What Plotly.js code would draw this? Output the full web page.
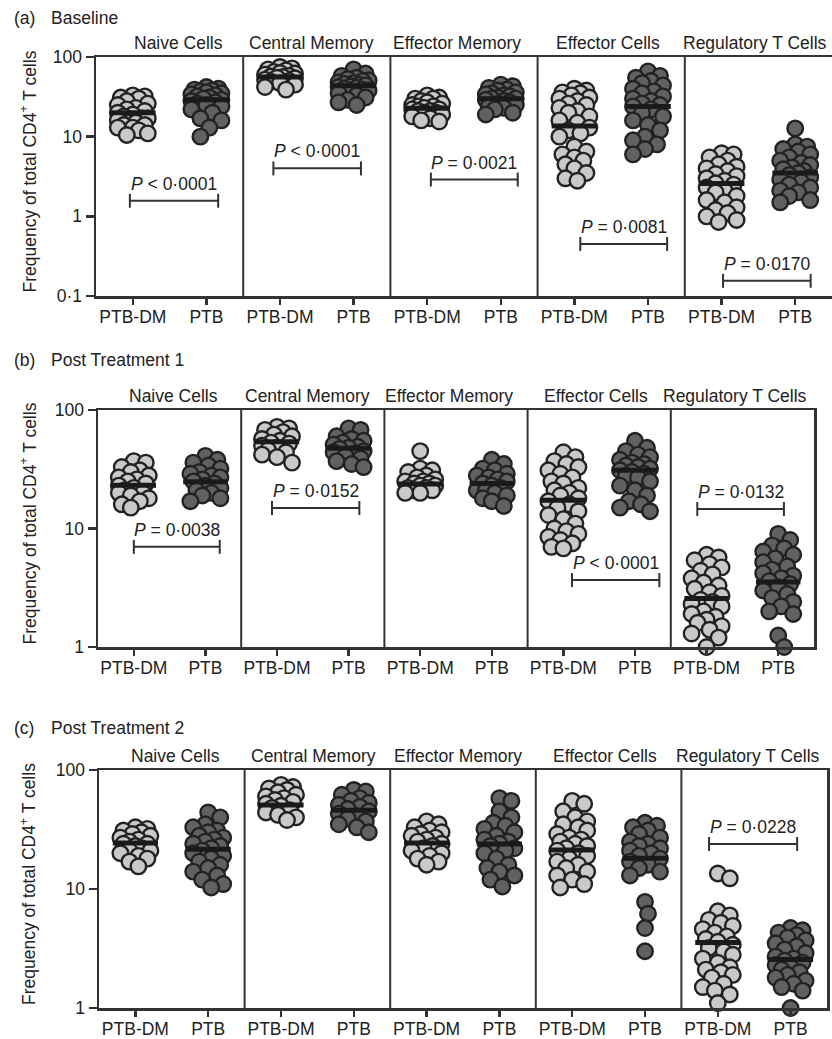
<!DOCTYPE html>
<html><head><meta charset="utf-8">
<script src="https://cdn.plot.ly/plotly-3.0.1.min.js"></script>
<style>html,body{margin:0;padding:0;background:#fff}#chart{width:832px;height:1039px}</style>
</head><body><div id="chart"></div>
<script>
// ---------- categories / labels ----------
const groups = ['Naive Cells', 'Central Memory', 'Effector Memory', 'Effector Cells', 'Regulatory T Cells'];
const cohorts = ['PTB-DM', 'PTB'];
const panelLetters = ['(a)', '(b)', '(c)'];
const panelTitles = ['Baseline', 'Post Treatment 1', 'Post Treatment 2'];

// ---------- (a) Baseline ----------
const A_naive_DM = [33, 32, 31, 30, 28, 26, 25, 23, 22, 21, 20, 19, 18, 17, 17, 16, 15, 15, 14, 14, 13, 13, 12, 11, 10.5];
const A_naive_PTB = [42, 40, 39, 38, 37, 36, 35, 34, 33, 32, 31, 30, 29, 28, 27, 26, 25, 24, 22, 20, 17, 16, 13, 10];
const A_cm_DM = [75, 72, 70, 68, 65, 63, 62, 60, 58, 57, 56, 55, 54, 52, 50, 49, 47, 45, 42, 39];
const A_cm_PTB = [70, 62, 58, 55, 53, 51, 50, 48, 47, 46, 45, 44, 43, 42, 41, 40, 39, 38, 37, 35, 33, 31, 29, 27, 25];
const A_em_DM = [33, 31, 30, 30, 28, 27, 26, 25, 24, 24, 23, 22, 22, 21, 21, 20, 20, 19, 18, 17, 16, 15.5];
const A_em_PTB = [45, 43, 41, 39, 38, 36, 35, 34, 33, 32, 31, 30, 30, 29, 28, 27, 26, 25, 24, 23, 22, 20, 19];
const A_eff_DM = [40, 38, 36, 35, 33, 31, 30, 28, 26, 25, 23, 21, 20, 18, 16, 15, 13, 12, 11, 10, 7.5, 6.5, 6, 5.5, 5, 4.5, 4, 3.5, 3, 2.8];
const A_eff_PTB = [66, 58, 55, 50, 47, 44, 40, 37, 35, 32, 30, 28, 26, 25, 24, 22, 20, 18, 16, 14, 12, 10, 9, 8, 7, 6];
const A_treg_DM = [6.2, 6, 5.5, 5, 4.5, 4.2, 4, 3.7, 3.4, 3.2, 3, 2.8, 2.6, 2.5, 2.3, 2.1, 2, 1.8, 1.6, 1.5, 1.3, 1.2, 1.1, 1.0, 0.9, 0.85];
const A_treg_PTB = [12.7, 8, 7.5, 7, 6.5, 6, 5.5, 5, 4.7, 4.4, 4.1, 3.9, 3.7, 3.5, 3.3, 3.1, 2.9, 2.7, 2.5, 2.3, 2.1, 2, 1.8, 1.6, 1.5];
const A_mean_DM = [20, 56, 22.8, 13.6, 2.58];
const A_mean_PTB = [29, 43.5, 30, 23.9, 3.5];

// ---------- (b) Post Treatment 1 ----------
const B_naive_DM = [37, 36, 33, 31, 30, 28, 27, 26, 25, 24, 23, 22, 21, 20, 20, 19, 18, 17, 16, 15];
const B_naive_PTB = [41, 38, 36, 34, 32, 30, 29, 28, 27, 26, 25, 24, 23, 22, 21, 20, 19, 18, 17];
const B_cm_DM = [72, 70, 68, 65, 62, 60, 57, 55, 53, 52, 50, 48, 46, 44, 42, 40, 36];
const B_cm_PTB = [70, 68, 60, 57, 55, 53, 51, 49, 48, 47, 45, 44, 43, 41, 39, 37, 35, 33];
const B_em_DM = [45, 32, 31, 30, 28, 27, 26, 25, 25, 24, 24, 23, 23, 22, 22, 21, 21, 20, 20];
const B_em_PTB = [38, 35, 32, 31, 29, 28, 27, 26, 25, 24, 23, 22, 21, 21, 20, 19, 18, 17, 15.5];
const B_eff_DM = [44, 40, 37, 35, 33, 31, 29, 27, 25, 24, 22, 21, 20, 19, 18, 17, 16, 15, 14, 13, 12, 11, 10, 9.5, 9, 8.5, 8, 7.5, 7, 6.8];
const B_eff_PTB = [55, 48, 45, 42, 40, 38, 36, 35, 34, 33, 32, 31, 30, 29, 28, 27, 25, 23, 21, 19, 17, 16, 15, 14];
const B_treg_DM = [6, 5.7, 5.4, 5, 4.7, 4.4, 4.1, 3.8, 3.5, 3.3, 3.1, 2.9, 2.7, 2.5, 2.4, 2.3, 2.2, 2.0, 1.9, 1.8, 1.7, 1.6, 1.5, 1.4, 1.3, 1.2, 1.0];
const B_treg_PTB = [9, 8, 7.2, 6.8, 6.4, 6, 5.6, 5.2, 4.8, 4.5, 4.2, 4, 3.8, 3.6, 3.4, 3.2, 3, 2.8, 2.6, 2.4, 2.2, 2, 1.9, 1.25, 1.0];
const B_mean_DM = [23.2, 54, 23.7, 17.3, 2.56];
const B_mean_PTB = [24.8, 47.5, 24, 31, 3.54];

// ---------- (c) Post Treatment 2 ----------
const C_naive_DM = [33, 32, 31, 30, 29, 28, 27, 26, 25, 24, 24, 23, 22, 21, 21, 20, 19, 18, 17, 15.5];
const C_naive_PTB = [44, 40, 35, 33, 31, 30, 28, 27, 26, 25, 24, 23, 22, 21, 20, 19, 18, 17, 16, 15, 14, 13, 12, 11, 10.3];
const C_cm_DM = [75, 72, 70, 68, 65, 62, 60, 58, 56, 54, 52, 50, 48, 46, 44, 42, 40, 38];
const C_cm_PTB = [68, 66, 62, 58, 55, 53, 51, 49, 47, 45, 43, 41, 39, 37, 35, 33, 30];
const C_em_DM = [37, 35, 33, 31, 30, 29, 28, 27, 26, 25, 24, 23, 22, 21, 20, 19, 18, 17, 16];
const C_em_PTB = [58, 55, 45, 40, 36, 34, 32, 30, 28, 26, 25, 24, 23, 22, 21, 20, 18, 16, 15, 14, 13, 12, 10.5];
const C_eff_DM = [55, 52, 45, 40, 37, 35, 33, 31, 29, 27, 26, 25, 24, 23, 22, 21, 20, 19, 18, 17, 16, 15, 14, 13, 12, 11, 10.3];
const C_eff_PTB = [36, 34, 33, 31, 29, 27, 25, 24, 23, 22, 21, 20, 19, 18, 17, 16, 15, 14, 13, 7.8, 6.2, 4.7, 3];
const C_treg_DM = [13.5, 12.3, 6.5, 6, 5.5, 5.2, 4.9, 4.6, 4.3, 4, 3.8, 3.6, 3.4, 3.2, 3, 2.8, 2.6, 2.4, 2.2, 2.1, 2, 1.9, 1.8, 1.6, 1.5, 1.4, 1.3, 1.1];
const C_treg_PTB = [4.7, 4.5, 4.3, 4.1, 3.9, 3.7, 3.5, 3.3, 3.1, 2.9, 2.7, 2.6, 2.5, 2.4, 2.3, 2.2, 2.1, 2, 1.9, 1.8, 1.7, 1.6, 1.5, 1.4, 1.0];
const C_mean_DM = [24.3, 50.8, 24.3, 21.3, 3.56];
const C_mean_PTB = [21.6, 46, 23.9, 18.1, 2.55];

// ---------- P values (group index, text, bracket level, bracket span in category units) ----------
const A_p_group = [0, 1, 2, 3, 4];
const A_p_text = ['&lt; 0·0001', '&lt; 0·0001', '= 0·0021', '= 0·0081', '= 0·0170'];
const A_p_level = [1.57, 4.0, 2.9, 0.45, 0.155];
const A_p_span = [[0.46, 1.66], [2.41, 3.6], [4.55, 5.73], [6.58, 7.76], [8.52, 9.71]];
const B_p_group = [0, 1, 3, 4];
const B_p_text = ['= 0·0038', '= 0·0152', '&lt; 0·0001', '= 0·0132'];
const B_p_level = [7.0, 14.9, 3.67, 14.6];
const B_p_span = [[0.5, 1.7], [2.43, 3.65], [6.62, 7.84], [8.37, 9.58]];
const C_p_group = [4];
const C_p_text = ['= 0·0228'];
const C_p_level = [23.9];
const C_p_span = [[8.38, 9.59]];

// ---------- assemble ----------
const W = 832, H = 1039;
const FONT = 'Liberation Sans, Arial, Helvetica, sans-serif';
const TXT = '#222';
const FS = 17.5;
const LIGHT = '#c9c9c9', DARK = '#616161', EDGE = '#222';

const panels = [
  {dm: [A_naive_DM, A_cm_DM, A_em_DM, A_eff_DM, A_treg_DM], ptb: [A_naive_PTB, A_cm_PTB, A_em_PTB, A_eff_PTB, A_treg_PTB],
   mdm: A_mean_DM, mptb: A_mean_PTB, pg: A_p_group, pt: A_p_text, pl: A_p_level, ps: A_p_span,
   px: [96, 832], py: [57, 296], yr: [-1, 2], yt: [0.1, 1, 10, 100], ytt: ['0·1', '1', '10', '100'],
   titleY: 18, titleX: [1.12, 2.93, 4.91, 6.96, 8.95], rightBorder: false},
  {dm: [B_naive_DM, B_cm_DM, B_em_DM, B_eff_DM, B_treg_DM], ptb: [B_naive_PTB, B_cm_PTB, B_em_PTB, B_eff_PTB, B_treg_PTB],
   mdm: B_mean_DM, mptb: B_mean_PTB, pg: B_p_group, pt: B_p_text, pl: B_p_level, ps: B_p_span,
   px: [98, 814], py: [410, 647], yr: [0, 2], yt: [1, 10, 100], ytt: ['1', '10', '100'],
   titleY: 360, titleX: [1.05, 2.93, 4.9, 6.95, 8.9], rightBorder: true},
  {dm: [C_naive_DM, C_cm_DM, C_em_DM, C_eff_DM, C_treg_DM], ptb: [C_naive_PTB, C_cm_PTB, C_em_PTB, C_eff_PTB, C_treg_PTB],
   mdm: C_mean_DM, mptb: C_mean_PTB, pg: C_p_group, pt: C_p_text, pl: C_p_level, ps: C_p_span,
   px: [99, 827], py: [770, 1008], yr: [0, 2], yt: [1, 10, 100], ytt: ['1', '10', '100'],
   titleY: 728, titleX: [1.05, 2.95, 4.93, 6.95, 8.92], rightBorder: true}
];

function swarm(vals, pxX, pxDec) {
  const order = vals.map((v, i) => i).sort((a, b) => vals[b] - vals[a]);
  const placed = [];
  const off = new Array(vals.length).fill(0);
  const cands = [0];
  for (let s = 3; s <= 15; s += 3) { cands.push(s, -s); }
  order.forEach(i => {
    const y = Math.log10(vals[i]) * pxDec;
    let best = 0, bestD = -1;
    for (const c of cands) {
      let md = Infinity;
      for (const p of placed) { const d = Math.hypot(p.x - c, p.y - y); if (d < md) md = d; }
      if (md >= 12) { best = c; bestD = md; break; }
      if (md > bestD) { bestD = md; best = c; }
    }
    placed.push({x: best, y: y});
    off[i] = best / pxX;
  });
  return off;
}

const data = [];
const layout = {
  width: W, height: H, margin: {l: 0, r: 0, t: 0, b: 0},
  paper_bgcolor: '#fff', plot_bgcolor: '#fff', showlegend: false,
  font: {family: FONT, size: FS, color: TXT},
  shapes: [], annotations: []
};

panels.forEach((P, k) => {
  const sfx = k === 0 ? '' : String(k + 1);
  const xa = 'x' + sfx, ya = 'y' + sfx;
  const xd = [P.px[0] / W, P.px[1] / W];
  const yd = [1 - P.py[1] / H, 1 - P.py[0] / H];
  const pxX = (P.px[1] - P.px[0]) / 10;
  const pxDec = (P.py[1] - P.py[0]) / (P.yr[1] - P.yr[0]);
  const tickvals = [], ticktext = [];
  for (let g = 0; g < 5; g++) { tickvals.push(2 * g + 0.5, 2 * g + 1.5); ticktext.push(cohorts[0], cohorts[1]); }
  layout['xaxis' + sfx] = {
    domain: xd, range: [0, 10], anchor: ya, showline: true, mirror: true, linecolor: '#333', linewidth: 2.5,
    ticks: 'outside', ticklen: 6, tickwidth: 2.5, tickcolor: '#333', tickvals: tickvals, ticktext: ticktext,
    ticklabelstandoff: -3,
    showgrid: false, zeroline: false, tickfont: {family: FONT, size: FS, color: TXT}, fixedrange: true
  };
  layout['yaxis' + sfx] = {
    domain: yd, type: 'log', range: P.yr, anchor: xa, showline: true, mirror: P.rightBorder, linecolor: '#333', linewidth: 2.5,
    ticks: 'outside', ticklen: 8, tickwidth: 2.5, tickcolor: '#333', tickvals: P.yt, ticktext: P.ytt,
    showgrid: false, zeroline: false, tickfont: {family: FONT, size: FS, color: TXT}, fixedrange: true
  };
  for (let g = 1; g < 5; g++) {
    layout.shapes.push({type: 'line', xref: xa, yref: ya + ' domain', x0: 2 * g, x1: 2 * g, y0: 0, y1: 1,
      line: {color: '#333', width: 2}});
  }
  for (let g = 0; g < 5; g++) {
    [[P.dm[g], LIGHT, 2 * g + 0.5, P.mdm[g]], [P.ptb[g], DARK, 2 * g + 1.5, P.mptb[g]]].forEach(([vals, col, cx, m]) => {
      const off = swarm(vals, pxX, pxDec);
      data.push({type: 'scatter', mode: 'markers', xaxis: xa, yaxis: ya, cliponaxis: false,
        x: vals.map((v, i) => cx + off[i]), y: vals,
        marker: {size: 15.5, color: col, line: {color: EDGE, width: 2.4}}, hoverinfo: 'skip'});
      data.push({type: 'scatter', mode: 'lines', xaxis: xa, yaxis: ya, cliponaxis: false,
        x: [cx - 0.31, cx + 0.31], y: [m, m], line: {color: '#1a1a1a', width: 5}, hoverinfo: 'skip'});
    });
    layout.annotations.push({xref: xa, yref: ya + ' domain', x: P.titleX[g], y: 1, yanchor: 'middle', yshift: 14,
      text: groups[g], showarrow: false, font: {family: FONT, size: FS, color: TXT}});
  }
  P.pg.forEach((g, j) => {
    const [x0, x1] = P.ps[j];
    data.push({type: 'scatter', mode: 'lines+markers', xaxis: xa, yaxis: ya, cliponaxis: false,
      x: [x0, x1], y: [P.pl[j], P.pl[j]], line: {color: '#333', width: 2},
      marker: {symbol: 'line-ns', size: 10, line: {color: '#333', width: 2}}, hoverinfo: 'skip'});
    layout.annotations.push({xref: xa, yref: ya, x: (x0 + x1) / 2, y: Math.log10(P.pl[j]), yanchor: 'middle', yshift: 17,
      text: '<i>P</i> ' + P.pt[j], showarrow: false, font: {family: FONT, size: FS, color: TXT}});
  });
  // panel label and title
  layout.annotations.push({xref: 'paper', yref: 'paper', x: 12 / W, y: 1 - P.titleY / H, xanchor: 'left', yanchor: 'middle',
    text: panelLetters[k], showarrow: false, font: {family: FONT, size: FS, color: TXT}});
  layout.annotations.push({xref: 'paper', yref: 'paper', x: 49 / W, y: 1 - P.titleY / H, xanchor: 'left', yanchor: 'middle',
    text: panelTitles[k], showarrow: false, font: {family: FONT, size: FS, color: TXT}});
  // y axis title
  layout.annotations.push({xref: 'paper', yref: 'paper', x: 28 / W, y: 1 - ((P.py[0] + P.py[1]) / 2 - 5) / H,
    xanchor: 'center', yanchor: 'middle', textangle: -90,
    text: 'Frequency of total CD4<sup>+</sup> T cells', showarrow: false, font: {family: FONT, size: FS, color: TXT}});
});

Plotly.newPlot('chart', data, layout, {displayModeBar: false, staticPlot: true});
</script>
</body></html>
